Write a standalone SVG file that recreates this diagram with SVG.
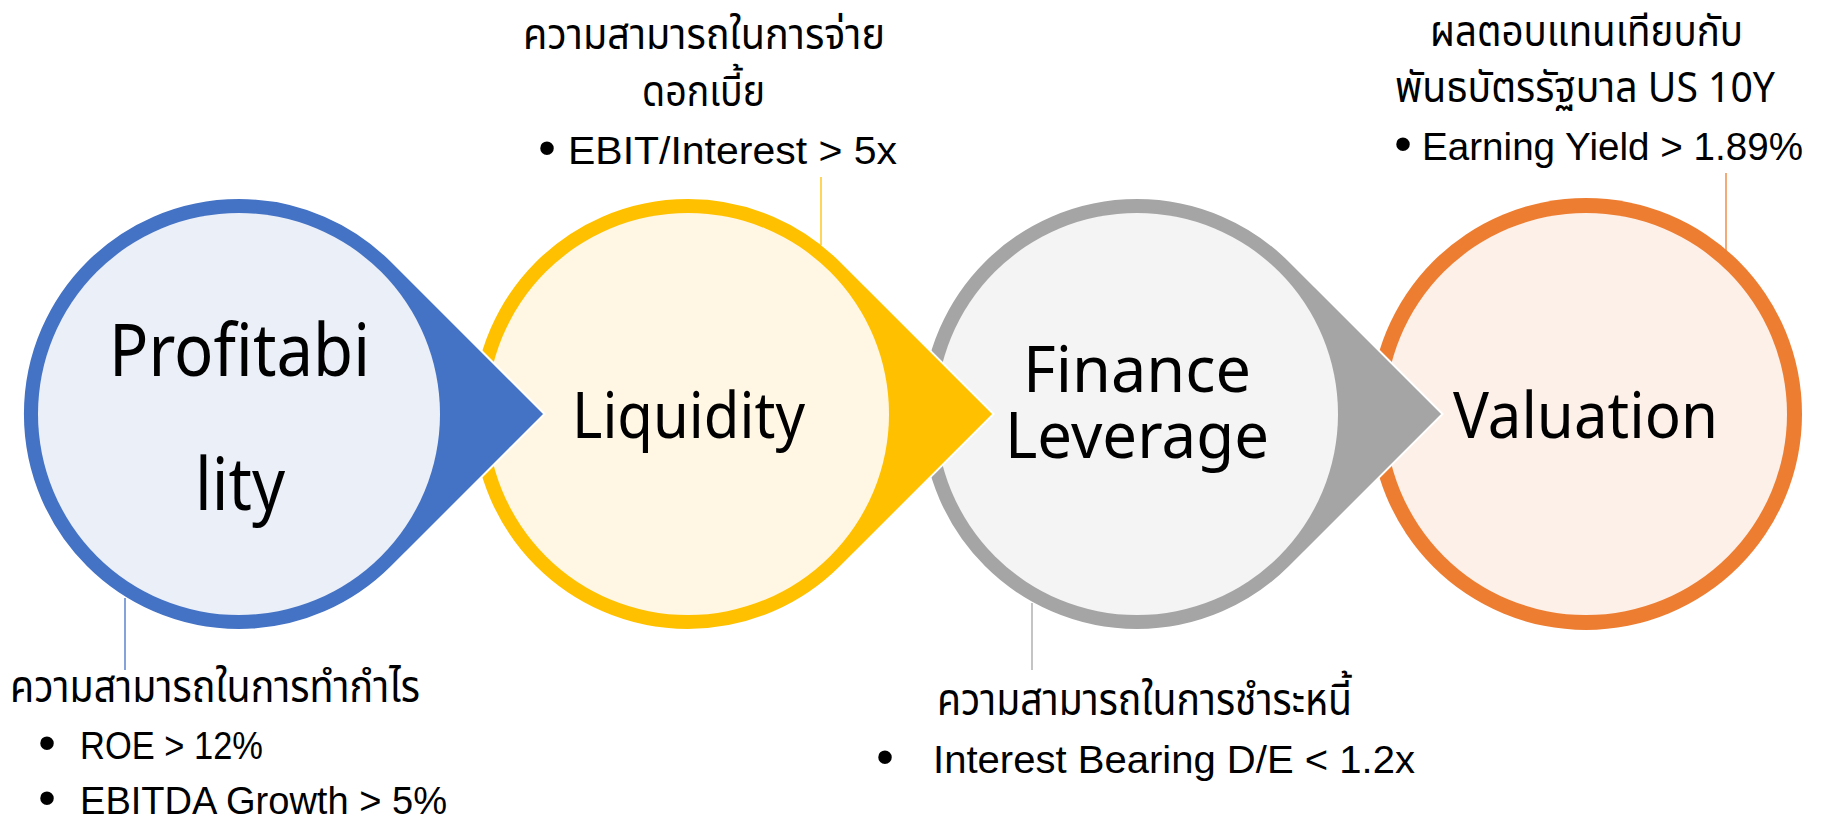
<svg xmlns="http://www.w3.org/2000/svg" width="1821" height="823" viewBox="0 0 1821 823">
<style>
  .lbl { font-family: "Noto Sans", "DejaVu Sans", sans-serif; fill: #000; }
  .big { font-size: 64px; }
  .big2 { font-size: 73px; }
  .ann { font-family: "Liberation Sans", "Noto Sans", sans-serif; font-size: 38px; fill: #000; }
  .th { font-family: "Noto Sans", "Noto Sans Thai", "DejaVu Sans", sans-serif; font-size: 44px; fill: #000; }
  .tht { font-size: 42px; }
  .bul { font-family: "Liberation Sans", "Noto Sans", sans-serif; font-size: 50px; fill: #000; text-anchor: middle; }
  .drop { stroke: #FFFFFF; stroke-width: 2; }
  .lead { stroke-width: 1.3; fill: none; }
</style>

<!-- Node 4: Valuation (drawn first, underneath) -->
<g id="node-valuation">
  <circle cx="1586" cy="414" r="216" fill="#ED7D31"/>
  <circle cx="1586" cy="414" r="201" fill="#FDF0E8"/>
  <text class="lbl big" x="1453" y="438" textLength="265" lengthAdjust="spacingAndGlyphs">Valuation</text>
</g>

<!-- Node 3: Finance Leverage -->
<g id="node-finance">
  <path class="drop" fill="#A5A5A5" d="M1442.5,414 L1289.7,261.3 A216,216 0 1 0 1289.7,566.7 Z"/>
  <circle cx="1137" cy="414" r="201" fill="#F4F4F4"/>
  <text class="lbl big" x="1023" y="392" textLength="228" lengthAdjust="spacingAndGlyphs">Finance</text>
  <text class="lbl big" x="1005" y="458" textLength="264" lengthAdjust="spacingAndGlyphs">Leverage</text>
</g>

<!-- Node 2: Liquidity -->
<g id="node-liquidity">
  <path class="drop" fill="#FFC000" d="M993.5,414 L840.7,261.3 A216,216 0 1 0 840.7,566.7 Z"/>
  <circle cx="688" cy="414" r="201" fill="#FFF7E4"/>
  <text class="lbl big" x="572" y="438" textLength="233" lengthAdjust="spacingAndGlyphs">Liquidity</text>
</g>

<!-- Node 1: Profitability -->
<g id="node-profitability">
  <path class="drop" fill="#4472C4" d="M544.5,414 L391.7,261.3 A216,216 0 1 0 391.7,566.7 Z"/>
  <circle cx="239" cy="414" r="201" fill="#EAEFF8"/>
  <text class="lbl big2" x="109" y="376" textLength="261" lengthAdjust="spacingAndGlyphs">Profitabi</text>
  <text class="lbl big2" x="195" y="510" textLength="90" lengthAdjust="spacingAndGlyphs">lity</text>
</g>

<!-- Connectors (leader lines) -->
<g id="connectors">
  <line class="lead" x1="125" y1="598" x2="125" y2="670" stroke="#4472C4"/>
  <line class="lead" x1="821" y1="177" x2="821" y2="245" stroke="#FFC000"/>
  <line class="lead" x1="1032" y1="603" x2="1032" y2="670" stroke="#A5A5A5"/>
  <line class="lead" x1="1726" y1="173" x2="1726" y2="251" stroke="#ED7D31"/>
</g>

<!-- Annotations -->
<g id="note-profitability">
  <text class="th" x="10" y="702" textLength="410" lengthAdjust="spacingAndGlyphs">ความสามารถในการทำกำไร</text>
  <text class="bul" x="47" y="760">•</text>
  <text class="ann" x="80" y="759" textLength="183" lengthAdjust="spacingAndGlyphs">ROE &gt; 12%</text>
  <text class="bul" x="47" y="815">•</text>
  <text class="ann" x="80" y="814" textLength="367" lengthAdjust="spacingAndGlyphs">EBITDA Growth &gt; 5%</text>
</g>

<g id="note-liquidity">
  <text class="th tht" x="523" y="49" textLength="362" lengthAdjust="spacingAndGlyphs">ความสามารถในการจ่าย</text>
  <text class="th tht" x="642" y="106" textLength="123" lengthAdjust="spacingAndGlyphs">ดอกเบี้ย</text>
  <text class="bul" x="547" y="165">•</text>
  <text class="ann" x="568" y="164" textLength="329" lengthAdjust="spacingAndGlyphs">EBIT/Interest &gt; 5x</text>
</g>

<g id="note-finance">
  <text class="th" x="937" y="715" textLength="415" lengthAdjust="spacingAndGlyphs">ความสามารถในการชำระหนี้</text>
  <text class="bul" x="885" y="774">•</text>
  <text class="ann" x="933" y="773" textLength="482" lengthAdjust="spacingAndGlyphs">Interest Bearing D/E &lt; 1.2x</text>
</g>

<g id="note-valuation">
  <text class="th tht" x="1430" y="46" textLength="313" lengthAdjust="spacingAndGlyphs">ผลตอบแทนเทียบกับ</text>
  <text class="th tht" x="1395" y="102" textLength="380" lengthAdjust="spacingAndGlyphs">พันธบัตรรัฐบาล US 10Y</text>
  <text class="bul" x="1403" y="161">•</text>
  <text class="ann" x="1422" y="160" textLength="381" lengthAdjust="spacingAndGlyphs">Earning Yield &gt; 1.89%</text>
</g>
</svg>
